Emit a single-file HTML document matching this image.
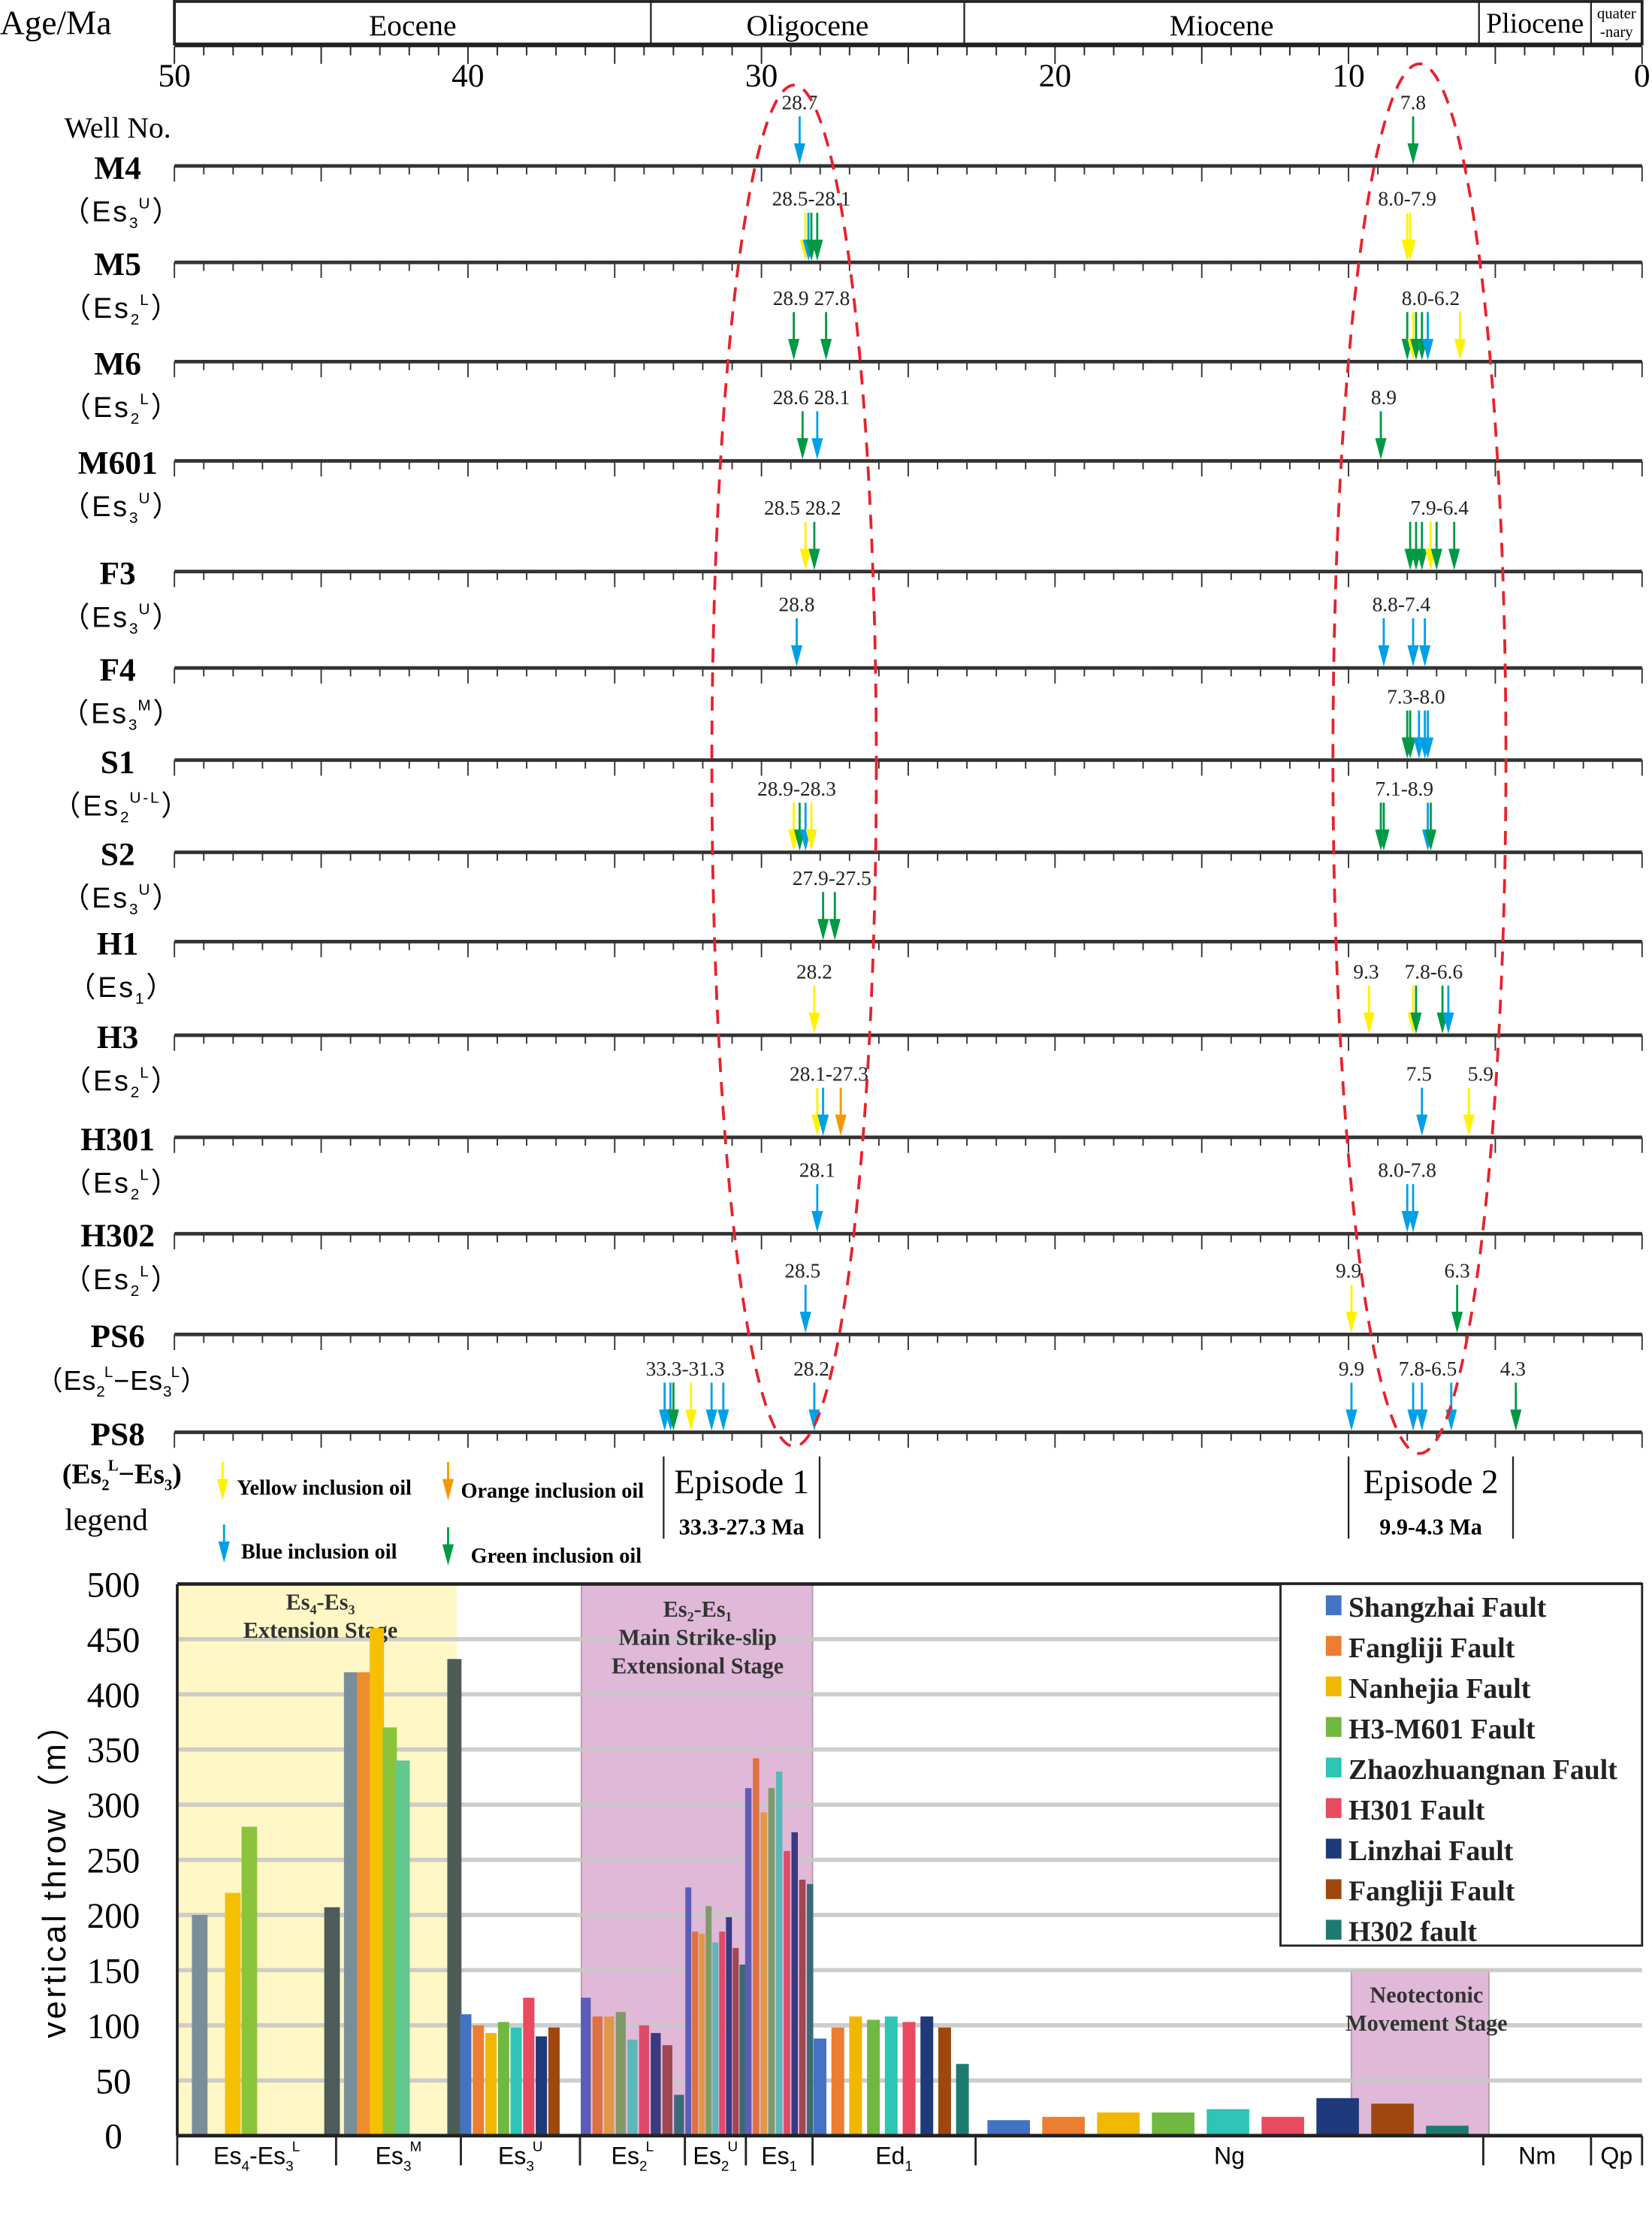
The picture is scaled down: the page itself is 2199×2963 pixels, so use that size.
<!DOCTYPE html>
<html><head><meta charset="utf-8"><style>
html,body{margin:0;padding:0;background:#fff;}
svg{display:block;}
text{font-family:"Liberation Serif",serif;}
</style></head><body>
<svg id="fig" xmlns="http://www.w3.org/2000/svg" width="2199" height="2963" viewBox="0 0 1165 1569.7">
<g id="topchart"></g>
<g id="botchart"></g>
</svg>
<script>
// ---------- Top chart data ----------
const epochNames = ["Eocene","Oligocene","Miocene","Pliocene","quater-nary"];
const ageTicks = [50,40,30,20,10,0];
const wellNames = ["M4","M5","M6","M601","F3","F4","S1","S2","H1","H3","H301","H302","PS6","PS8"];
const wellForms = [["Es","3","U"],["Es","2","L"],["Es","2","L"],["Es","3","U"],["Es","3","U"],["Es","3","M"],["Es","2","U-L"],["Es","3","U"],["Es","1",""],["Es","2","L"],["Es","2","L"],["Es","2","L"],["Es","2","L","Es","3","L"],["Es","2","L","Es","3",""]];
const arrowAges = [
 [[28.7,"b"],[7.8,"g"]],
 [[28.5,"y"],[28.4,"b"],[28.3,"g"],[28.1,"g"],[8.0,"y"],[7.9,"y"]],
 [[28.9,"g"],[27.8,"g"],[8.0,"g"],[7.8,"y"],[7.7,"g"],[7.5,"g"],[7.3,"b"],[6.2,"y"]],
 [[28.6,"g"],[28.1,"b"],[8.9,"g"]],
 [[28.5,"y"],[28.2,"g"],[7.9,"g"],[7.7,"g"],[7.5,"g"],[7.2,"y"],[7.0,"g"],[6.4,"g"]],
 [[28.8,"b"],[8.8,"b"],[7.8,"b"],[7.4,"b"]],
 [[8.0,"g"],[7.9,"g"],[7.6,"b"],[7.4,"b"],[7.3,"b"]],
 [[28.9,"y"],[28.7,"g"],[28.5,"b"],[28.3,"y"],[8.9,"g"],[8.8,"g"],[7.3,"b"],[7.2,"g"]],
 [[27.9,"g"],[27.5,"g"]],
 [[28.2,"y"],[9.3,"y"],[7.8,"y"],[7.7,"g"],[6.8,"g"],[6.6,"b"]],
 [[28.1,"y"],[27.9,"b"],[27.3,"o"],[7.5,"b"],[5.9,"y"]],
 [[28.1,"b"],[8.0,"b"],[7.8,"b"]],
 [[28.5,"b"],[9.9,"y"],[6.3,"g"]],
 [[33.3,"b"],[33.1,"b"],[33.0,"g"],[32.4,"y"],[31.7,"b"],[31.3,"b"],[28.2,"b"],[9.9,"b"],[7.8,"b"],[7.5,"b"],[6.5,"b"],[4.3,"g"]]
];
const arrowLabels = [
 [["28.7",28.7],["7.8",7.8]],
 [["28.5-28.1",28.3],["8.0-7.9",8.0]],
 [["28.9 27.8",28.3],["8.0-6.2",7.2]],
 [["28.6 28.1",28.3],["8.9",8.8]],
 [["28.5 28.2",28.6],["7.9-6.4",6.9]],
 [["28.8",28.8],["8.8-7.4",8.2]],
 [["7.3-8.0",7.7]],
 [["28.9-28.3",28.8],["7.1-8.9",8.1]],
 [["27.9-27.5",27.6]],
 [["28.2",28.2],["9.3",9.4],["7.8-6.6",7.1]],
 [["28.1-27.3",27.7],["7.5",7.6],["5.9",5.5]],
 [["28.1",28.1],["8.0-7.8",8.0]],
 [["28.5",28.6],["9.9",10.0],["6.3",6.3]],
 [["33.3-31.3",32.6],["28.2",28.3],["9.9",9.9],["7.8-6.5",7.3],["4.3",4.4]]
];
const oilNames = {y:"Yellow inclusion oil",o:"Orange inclusion oil",b:"Blue inclusion oil",g:"Green inclusion oil"};
// ---------- Bottom chart data ----------
const faultNames = ["Shangzhai Fault","Fangliji Fault","Nanhejia Fault","H3-M601 Fault","Zhaozhuangnan Fault","H301 Fault","Linzhai Fault","Fangliji Fault","H302 fault"];
const yTicks = [0,50,100,150,200,250,300,350,400,450,500];
const throwEs4 = [200,null,220,280,null,null,null,null,207];
const throwEs3M = [420,420,460,370,340,null,null,null,432];
const throwEs3U = [110,100,93,103,98,125,90,98,null];
const throwEs2L = [125,108,108,112,87,100,93,82,37];
const throwEs2U = [225,185,183,208,175,185,198,170,155];
const throwEs1 = [315,342,293,315,330,258,275,232,228];
const throwEd1 = [88,98,108,105,108,103,108,98,65];
const throwNg = [14,17,21,21,24,17,34,29,9];

const NS="http://www.w3.org/2000/svg";
function mk(tag,attrs,parent,txt){const el=document.createElementNS(NS,tag);for(const k in attrs)el.setAttribute(k,attrs[k]);if(txt!==undefined)el.textContent=txt;parent.appendChild(el);return el;}
const gTop=document.getElementById('topchart'), gBot=document.getElementById('botchart');
const X0=123,X1=1158;
const ax=a=>X0+(50-a)*(X1-X0)/50;
const colors={y:"#FFF200",b:"#00A0E9",g:"#009944",o:"#F39800"};
const SANS='font-family:"Liberation Sans","Noto Sans CJK SC",sans-serif';

let t;
t=mk('text',{x:0,y:24,'font-size':24},gTop,"Age/Ma");

let r=mk('rect',{x:123,y:1,width:1035,height:30,fill:'none',stroke:'#222','stroke-width':2},gTop);

mk('line',{x1:123,x2:1158,y1:32,y2:32,stroke:'#222','stroke-width':2.5},gTop);
const epX=[123,459,680,1043,1122,1158];
for(let i=0;i<epochNames.length;i++){
  if(i>0) mk('line',{x1:epX[i],x2:epX[i],y1:1,y2:31,stroke:'#222','stroke-width':1.2},gTop);
  const cx=(epX[i]+epX[i+1])/2;
  if(i<4){t=mk('text',{x:cx,y:i==3?23:25,'text-anchor':'middle','font-size':i==3?20:21},gTop,epochNames[i]);}
  else{t=mk('text',{x:cx,y:13,'text-anchor':'middle','font-size':11},gTop,"quater");mk('text',{x:cx,y:26,'text-anchor':'middle','font-size':11},gTop,"-nary");}
  
}
for(let a=0;a<=50;a++){mk('line',{x1:ax(a),x2:ax(a),y1:33,y2:a%5==0?45:39,stroke:'#222','stroke-width':1},gTop);}
ageTicks.forEach(a=>{t=mk('text',{x:ax(a),y:61,'text-anchor':'middle','font-size':23},gTop,String(a));
});
t=mk('text',{x:83,y:97,'text-anchor':'middle','font-size':21},gTop,"Well No.");


function subsup(g,base,sub,sup,fs){
  mk('tspan',{},g,base);
  mk('tspan',{'font-size':fs,'baseline-shift':'-5'},g,sub);
  if(sup) mk('tspan',{'font-size':fs,'baseline-shift':'9',dx:-1},g,sup);
}
const lineY=[117,185,255,325,403,471,536,601,664,730,802,870,941,1010];
function formLabel(y,f,bold,long){
  const g=mk('text',{x:86,y:y,'text-anchor':'middle','font-size':long?19:20,'font-weight':bold?'bold':'normal'},gTop);
  
  if(!bold) g.setAttribute('style',SANS+';letter-spacing:'+(long?'0.5px':'1.5px'));
  mk('tspan',{},g,bold?"(":"（");
  for(let i=0;i<f.length;i+=3){
    if(i>0) mk('tspan',{},g,"−");
    subsup(g,f[i],f[i+1],f[i+2],11);
  }
  mk('tspan',{},g,bold?")":"）");
}
wellNames.forEach((w,i)=>{
  const y=lineY[i];
  t=mk('text',{x:83,y:y+9,'text-anchor':'middle','font-size':23,'font-weight':'bold'},gTop,w);
  
  const l=mk('line',{x1:123,x2:1158,y1:y,y2:y,stroke:'#333','stroke-width':2.5},gTop);
  
  for(let a=0;a<=50;a++) mk('line',{x1:ax(a),x2:ax(a),y1:y,y2:y+(a%5==0?11:6),stroke:'#333','stroke-width':1},gTop);
  formLabel(y+(i==13?36:39),wellForms[i],i==13,i==12);
  arrowAges[i].forEach(([a,c])=>{
    const x=ax(a);const g=mk('g',{},gTop);
    
    mk('line',{x1:x,x2:x,y1:y-35,y2:y-10,stroke:colors[c],'stroke-width':1.5},g);
    mk('polygon',{points:`${x-4},${y-16} ${x+4},${y-16} ${x},${y-1}`,fill:colors[c]},g);
  });
  arrowLabels[i].forEach(([s,a])=>{
    t=mk('text',{x:ax(a),y:y-40,'text-anchor':'middle','font-size':14.5,fill:'#222'},gTop,s);
    
  });
});
let el=mk('ellipse',{cx:560,cy:540,rx:58,ry:480,fill:'none',stroke:'#E8222A','stroke-width':2,'stroke-dasharray':'10,7'},gTop);

el=mk('ellipse',{cx:1001,cy:535,rx:61,ry:490,fill:'none',stroke:'#E8222A','stroke-width':2,'stroke-dasharray':'10,7'},gTop);

t=mk('text',{x:75,y:1079,'text-anchor':'middle','font-size':22},gTop,"legend");

[["y",157,1031,167,1054],["o",316,1031,325,1056],["b",158,1075,170,1099],["g",316,1077,332,1102]].forEach(([c,x,y,tx,ty])=>{
  const g=mk('g',{},gTop);
  mk('line',{x1:x,x2:x,y1:y,y2:y+18,stroke:colors[c],'stroke-width':1.5},g);
  mk('polygon',{points:`${x-4},${y+12} ${x+4},${y+12} ${x},${y+27}`,fill:colors[c]},g);
  mk('text',{x:tx,y:ty,'font-size':15,'font-weight':'bold'},g,oilNames[c]);
});
[[468,578,"Episode 1","33.3-27.3 Ma"],[951,1067,"Episode 2","9.9-4.3 Ma"]].forEach(([a,b,n,rr],k)=>{
  const g=mk('g',{},gTop);
  mk('line',{x1:a,x2:a,y1:1027,y2:1085,stroke:'#222','stroke-width':1.2},g);
  mk('line',{x1:b,x2:b,y1:1027,y2:1085,stroke:'#222','stroke-width':1.2},g);
  mk('text',{x:(a+b)/2,y:1053,'text-anchor':'middle','font-size':24},g,n);
  mk('text',{x:(a+b)/2,y:1082,'text-anchor':'middle','font-size':16,'font-weight':'bold'},g,rr);
});

// ---------- Bottom chart ----------
const PX0=125,PX1=1158,PY0=1506,PY1=1117;
const yv=v=>PY0-v*(PY0-PY1)/500;
let s;
s=mk('rect',{x:125,y:PY1,width:197,height:PY0-PY1,fill:'#FFF7C6'},gBot);
s=mk('rect',{x:410,y:PY1,width:163,height:PY0-PY1,fill:'#E0B8D8',stroke:'#b89ab0','stroke-width':1},gBot);
s=mk('rect',{x:953,y:yv(150),width:97,height:PY0-yv(150),fill:'#E0B8D8',stroke:'#b89ab0','stroke-width':1},gBot);
yTicks.forEach(v=>{
  if(v>0&&v<500){const g=mk('line',{x1:PX0,x2:PX1,y1:yv(v),y2:yv(v),stroke:'#c8c8c8','stroke-width':3,opacity:0.9},gBot);
  }
  t=mk('text',{x:80,y:yv(v)+9,'text-anchor':'middle','font-size':25},gBot,String(v));
  
});
t=mk('text',{x:46,y:1320,'text-anchor':'middle','font-size':23,transform:'rotate(-90 46 1320)',style:SANS+';letter-spacing:2px'},gBot,"vertical throw（m）");

[[226,1135,["Es₄-Es₃","Extension Stage"]],[492,1140,["Es₂-Es₁","Main Strike-slip","Extensional Stage"]],[1006,1412,["Neotectonic","Movement Stage"]]].forEach(([x,y,ls])=>{
  const g=mk('g',{},gBot);
  ls.forEach((l,i)=>mk('text',{x:x,y:y+i*20,'text-anchor':'middle','font-size':16,'font-weight':'bold',fill:'#333'},g,l));
});
const faultColors=["#4472C4","#ED7D31","#F0B800","#70B840","#2EC4B6","#E84A5F","#1F3A7A","#9E480E","#1D7A6E"];
const yellowColors=["#7A8E99","#F08C30","#F5C000","#8BC43A","#62C88F","#E84A5F","#1F3A7A","#9E480E","#4D5C58"];
const purpleColors=["#5C5CB8","#E07040","#E09848","#7F9A68","#5CB8B8","#E04A6A","#3A3A80","#A04850","#3A6A78"];
function drawGroup(vals,x0,x1,w,pal,name){
  const n=vals.length,step=(x1-x0)/n;
  vals.forEach((v,i)=>{ if(v==null)return;
    const x=x0+step*i+(step-w)/2;
    const b=mk('rect',{x:x,y:yv(v),width:w,height:PY0-yv(v),fill:pal[i]},gBot);
    
    
  });
}
drawGroup(throwEs4,135,240,11,yellowColors,'es4-es3l');
drawGroup(throwEs3M,243,325,10,yellowColors,'es3m');
drawGroup(throwEs3U,324,404,8,faultColors,'es3u');
drawGroup(throwEs2L,409,483,7,purpleColors,'es2l');
drawGroup(throwEs2U,483,526,4.2,purpleColors,'es2u');
drawGroup(throwEs1,525,574,4.5,purpleColors,'es1');
drawGroup(throwEd1,572,685,9,faultColors,'ed1');
drawGroup(throwNg,692,1040,30,faultColors,'ng');
mk('line',{x1:PX0,x2:PX1,y1:PY1,y2:PY1,stroke:'#222','stroke-width':2.5},gBot);
mk('line',{x1:PX0,x2:PX0,y1:PY1,y2:PY0,stroke:'#222','stroke-width':2},gBot);
mk('line',{x1:PX0,x2:PX1,y1:PY0,y2:PY0,stroke:'#222','stroke-width':2.5},gBot);
let lg=mk('g',{},gBot);
mk('rect',{x:903,y:1117,width:255,height:255,fill:'#fff',stroke:'#222','stroke-width':1.5},lg);
faultNames.forEach((f,i)=>{
  const g=mk('g',{},lg);
  const y=1132+i*28.6;
  mk('rect',{x:935,y:y-7,width:11,height:14,fill:faultColors[i]},g);
  mk('text',{x:951,y:y+8,'font-size':20,'font-weight':'bold',fill:'#222'},g,f);
});
const catX=[125,237,325,409,483,526,573,688,1046,1122,1158];
const catLab=[["Es","4","","-Es","3","L"],["Es","3","M"],["Es","3","U"],["Es","2","L"],["Es","2","U"],["Es","1",""],["Ed","1",""],["Ng"],["Nm"],["Qp"]];
catX.forEach(x=>mk('line',{x1:x,x2:x,y1:PY0,y2:1527,stroke:'#222','stroke-width':1.5},gBot));
catLab.forEach((l,i)=>{
  const cx=(catX[i]+catX[i+1])/2;
  const g=mk('text',{x:cx,y:1526,'text-anchor':'middle','font-size':17,style:SANS},gBot);
  
  if(l.length==1){g.textContent=l[0];return;}
  for(let k=0;k<l.length;k+=3) subsup(g,l[k],l[k+1],l[k+2],10);
});
</script>
</body></html>
